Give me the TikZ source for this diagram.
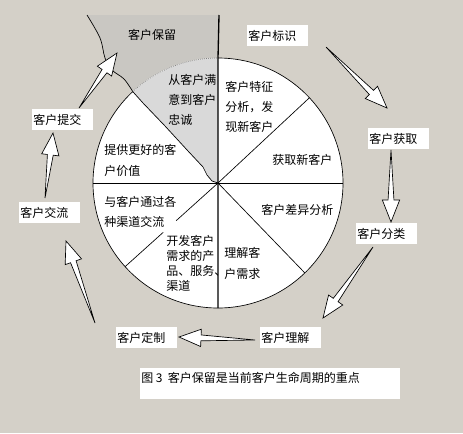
\documentclass[tikz,border=0pt]{standalone}
\usepackage{fontspec}
\setmainfont{Noto Sans CJK SC}
\usetikzlibrary{calc}
\definecolor{bg}{HTML}{D4D0C8}
\definecolor{retain}{HTML}{C9C7C2}
\definecolor{hatch}{HTML}{D9D9D9}
\newcommand{\lblfnt}{\fontsize{9pt}{11pt}\selectfont}
\newcommand{\blockarrow}[2]{%
  \draw[blockarr] (#1)
    -- ($(#2)!16.5pt!(#1)!2.2pt!90:(#1)$)
    -- ($(#2)!16.5pt!(#1)!6.5pt!90:(#1)$)
    -- (#2)
    -- ($(#2)!16.5pt!(#1)!6.5pt!-90:(#1)$)
    -- ($(#2)!16.5pt!(#1)!2.2pt!-90:(#1)$)
    -- cycle;}
\begin{document}
\begin{tikzpicture}[x=0.75pt,y=-0.75pt,
  lbl/.style={rectangle, fill=white, anchor=north west, inner xsep=0.75pt, inner ysep=0pt,
    text width=44.25pt, align=left, minimum height=15.75pt, font=\lblfnt},
  sect/.style={anchor=north west, inner sep=0pt, align=left, font=\fontsize{9pt}{15pt}\selectfont},
  blockarr/.style={draw=black, fill=white, line width=0.5pt, line join=miter},
  thinline/.style={line width=0.5pt}]
\fill[bg] (0,0) rectangle (463,433);
\useasboundingbox (0,0) rectangle (463,433);
% key points
\coordinate (C) at (218,183);
\coordinate (T) at (218,58);
\coordinate (B) at (218,308);
\coordinate (L) at (93,183);
\coordinate (R) at (343,183);
\coordinate (topV) at (219,15);
\coordinate (UR) at ($(C)+(-43:125)$);
\coordinate (LR) at ($(C)+(46:125)$);
\coordinate (LL) at ($(C)+(138:125)$);
\coordinate (UL) at ($(C)+(227:125)$);
% retention region
\fill[retain] plot[smooth, tension=0.6] coordinates {(87,15) (100,38) (105,58) (112,70) (124,79) (UL)}
  arc[start angle=227, end angle=270, radius=125] -- (topV) -- cycle;
% wheel
\fill[white] (C) circle[radius=93.75pt];
\fill[hatch] (C) -- (212,181) -- (207,175) -- (203,167) -- (188,151) -- (165,126) -- (143,103) -- (UL)
  arc[start angle=227, end angle=270, radius=125] -- cycle;
\draw[thinline] (T) arc[start angle=-90, end angle=227, radius=125];
\draw[densely dotted, gray, line width=0.5pt] (UL) arc[start angle=227, end angle=270, radius=125];
\draw[thinline] plot[smooth, tension=0.6] coordinates {(87,15) (100,38) (105,58) (112,70) (124,79) (UL)};
\draw[thinline] (UL) -- (143,103) -- (165,126) -- (188,151) -- (203,167) -- (207,175) -- (212,181) -- (C);
\draw[line width=1pt] (topV) -- (T) -- (B);
\draw[thinline] (L) -- (R);
\draw[thinline] (C) -- (UR);
\draw[thinline] (C) -- (LR);
\draw[thinline] (C) -- ($(C)!0.45!(LL)$);
\draw[thinline] ($(C)!0.59!(LL)$) -- (LL);
% sector texts
\node[sect] (s1) at (168,74) {从客户满\\意到客户\\忠诚};
\node[sect] (s2) at (225,81) {客户特征\\分析，发\\现新客户};
\node[sect] (s3) at (272,154) {获取新客户};
\node[sect] (s4) at (261,204) {客户差异分析};
\node[sect, font=\fontsize{9pt}{15.75pt}\selectfont] (s5) at (224,247) {理解客\\户需求};
\node[sect, font=\fontsize{9pt}{11.25pt}\selectfont] (s6) at (166,235) {开发客户\\需求的产\\品、服务、\\渠道};
\node[sect] (s7) at (104,196) {与客户通过各\\种渠道交流};
\node[sect, font=\fontsize{9pt}{15.75pt}\selectfont] (s8) at (104,144) {提供更好的客\\户价值};
% cycle labels
\node[font=\lblfnt, inner sep=0pt] (lret) at (152,35) {客户保留};
\node[lbl] (lid) at (247,25) {客户标识};
\node[lbl] (lacq) at (368,128) {客户获取};
\node[lbl] (lcls) at (356,223) {客户分类};
\node[lbl] (lund) at (260,327) {客户理解};
\node[lbl] (lcus) at (116,327) {客户定制};
\node[lbl] (lcom) at (19,202) {客户交流};
\node[lbl] (lsub) at (32,109) {客户提交};
% arrow ends
\coordinate (a1t) at (326,47);  \coordinate (a1h) at (387,108);
\coordinate (a2t) at (391,150); \coordinate (a2h) at (391,222);
\coordinate (a3t) at (373,247); \coordinate (a3h) at (323,318);
\coordinate (a4t) at (255,340); \coordinate (a4h) at (179,337);
\coordinate (a5t) at (95,323);  \coordinate (a5h) at (66,241);
\coordinate (a6t) at (45,198);  \coordinate (a6h) at (53,133);
\coordinate (a7t) at (79,108);  \coordinate (a7h) at (117,53);
\blockarrow{a1t}{a1h}
\blockarrow{a2t}{a2h}
\blockarrow{a3t}{a3h}
\blockarrow{a4t}{a4h}
\blockarrow{a5t}{a5h}
\blockarrow{a6t}{a6h}
\blockarrow{a7t}{a7h}
% caption
\fill[white] (140,368) rectangle (400,399);
\node[font=\lblfnt, anchor=west, inner sep=0pt] (cap) at (141,378) {图 3 \ 客户保留是当前客户生命周期的重点};
\end{tikzpicture}
\end{document}
